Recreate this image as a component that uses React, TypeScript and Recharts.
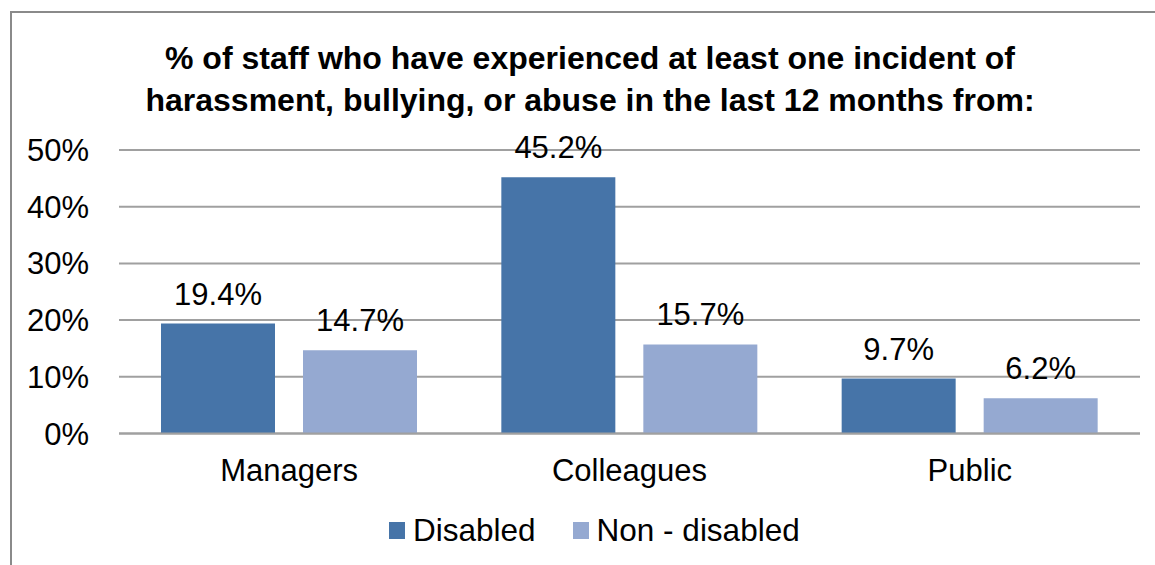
import React from 'react';
import { BarChart, Bar, XAxis, YAxis, CartesianGrid, LabelList } from 'recharts';

const categories = ['Managers', 'Colleagues', 'Public'];
const disabledValues = [19.4, 45.2, 9.7];
const nonDisabledValues = [14.7, 15.7, 6.2];
const yTicks = [0, 10, 20, 30, 40, 50];
const seriesNames = ['Disabled', 'Non - disabled'];
const seriesColors = ['#4674A8', '#95A9D1'];
const titleLines = [
  '% of staff who have experienced at least one incident of',
  'harassment, bullying, or abuse in the last 12 months from:',
];

const data = categories.map((c, i) => ({
  name: c,
  disabled: disabledValues[i],
  nonDisabled: nonDisabledValues[i],
}));

const FONT = '"Liberation Sans", Arial, sans-serif';

export default function App() {
  return (
    <div style={{ position: 'absolute', left: 0, top: 0, width: 1155, height: 565, background: '#fff', overflow: 'hidden', fontFamily: FONT }}>
      <div style={{ position: 'absolute', left: 10, top: 11, width: 1200, height: 600, border: '2px solid #8a8a8a', boxSizing: 'border-box' }} />
      <div style={{ position: 'absolute', left: 0, top: 37, width: 1180, textAlign: 'center', fontWeight: 'bold', fontSize: 32, lineHeight: '42px', color: '#000' }}>
        {titleLines.map((t) => (
          <div key={t}>{t}</div>
        ))}
      </div>
      <div style={{ position: 'absolute', left: 0, top: 0 }}>
        <BarChart
          width={1155}
          height={565}
          data={data}
          margin={{ top: 150, right: 15, bottom: 101.5, left: 0 }}
          barCategoryGap={42.3}
          barGap={28}
        >
          <CartesianGrid vertical={false} stroke="#a0a0a0" strokeWidth={2} />
          <YAxis
            width={119}
            domain={[0, 50]}
            ticks={yTicks}
            tickFormatter={(v) => `${v}%`}
            axisLine={false}
            tickLine={false}
            tickSize={0}
            tickMargin={30}
            tick={{ fontSize: 31, fill: '#000', fontFamily: FONT }}
            interval={0}
          />
          <XAxis
            dataKey="name"
            height={30}
            axisLine={{ stroke: '#a0a0a0', strokeWidth: 2 }}
            tickLine={false}
            tickSize={0}
            tickMargin={25}
            tick={{ fontSize: 31, fill: '#000', fontFamily: FONT }}
          />
          <Bar dataKey="disabled" name={seriesNames[0]} fill={seriesColors[0]} barSize={114} isAnimationActive={false}>
            <LabelList dataKey="disabled" position="top" offset={19} formatter={(v: number) => `${v.toFixed(1)}%`} style={{ fontSize: 31, fill: '#000', fontFamily: FONT }} />
          </Bar>
          <Bar dataKey="nonDisabled" name={seriesNames[1]} fill={seriesColors[1]} barSize={114} isAnimationActive={false}>
            <LabelList dataKey="nonDisabled" position="top" offset={19} formatter={(v: number) => `${v.toFixed(1)}%`} style={{ fontSize: 31, fill: '#000', fontFamily: FONT }} />
          </Bar>
        </BarChart>
      </div>
      <div style={{ position: 'absolute', left: 389, top: 513, display: 'flex', alignItems: 'center', fontSize: 31.5, lineHeight: '34px', color: '#000' }}>
        {seriesNames.map((n, i) => (
          <div key={n} style={{ display: 'flex', alignItems: 'center', marginRight: i === 0 ? 37 : 0 }}>
            <div style={{ width: 16, height: 17, background: seriesColors[i], marginRight: 8 }} />
            <span>{n}</span>
          </div>
        ))}
      </div>
    </div>
  );
}
